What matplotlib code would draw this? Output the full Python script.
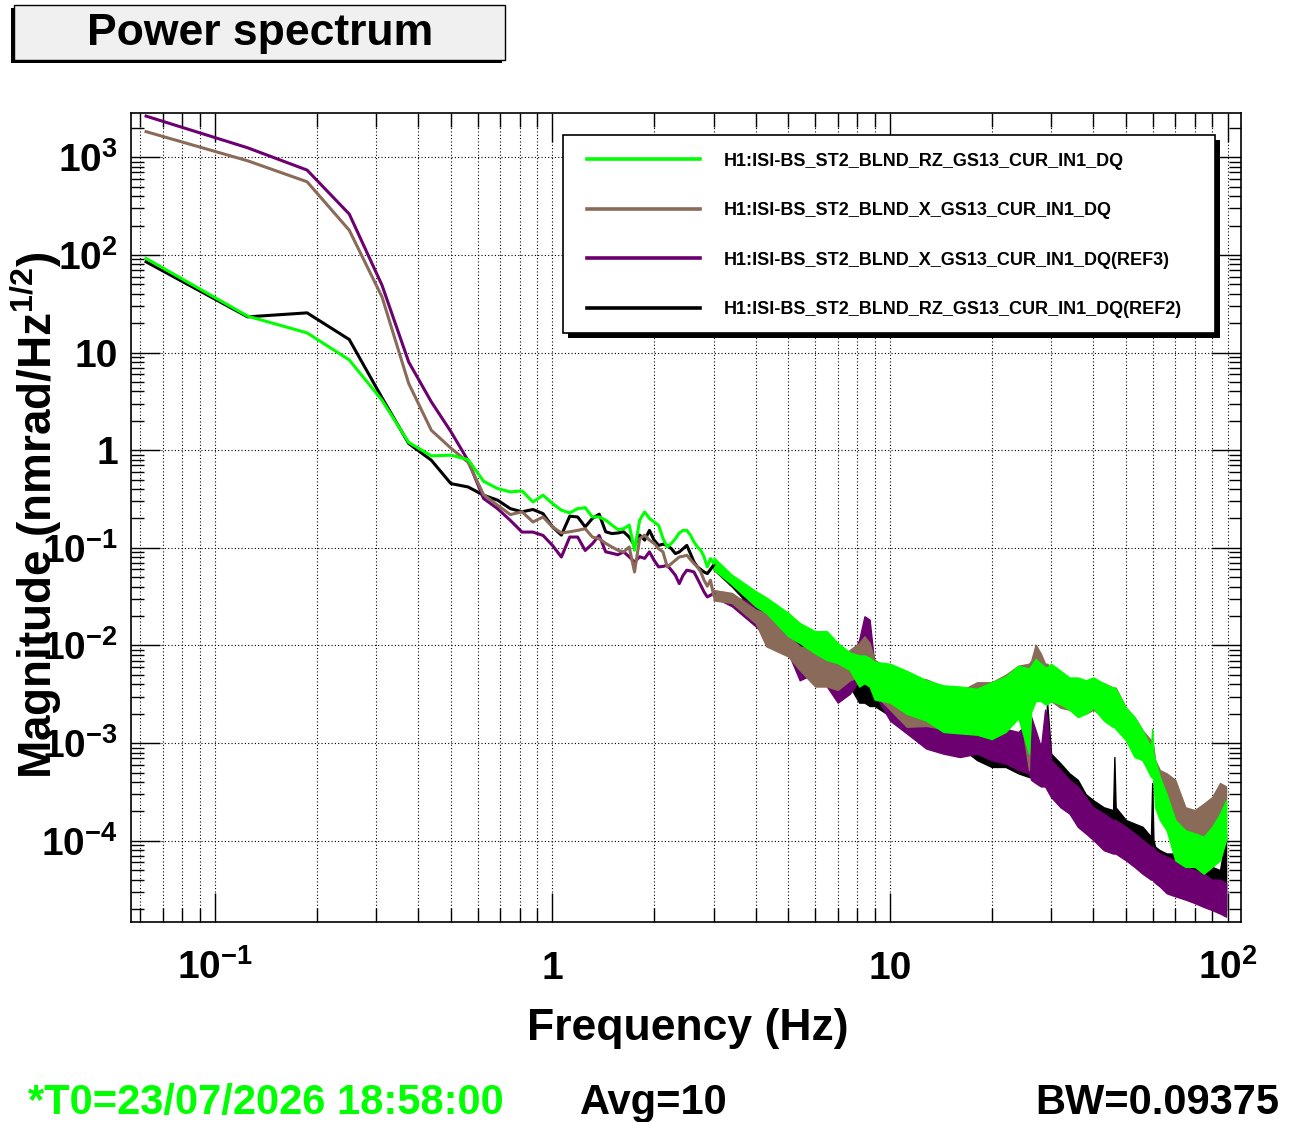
import numpy as np
import matplotlib
matplotlib.use('Agg')
import matplotlib.pyplot as plt
from matplotlib.patches import Rectangle
from matplotlib.ticker import FixedLocator, FixedFormatter, LogLocator, NullFormatter

plt.rcParams['font.family'] = ['Liberation Sans', 'DejaVu Sans']
plt.rcParams['mathtext.fontset'] = 'custom'
plt.rcParams['mathtext.rm'] = 'Liberation Sans:bold'
plt.rcParams['mathtext.bf'] = 'Liberation Sans:bold'
plt.rcParams['mathtext.it'] = 'Liberation Sans:bold'
plt.rcParams['mathtext.default'] = 'bf'

# ---- data -----------------------------------------------------------------
NAMES = ['H1:ISI-BS_ST2_BLND_RZ_GS13_CUR_IN1_DQ',
         'H1:ISI-BS_ST2_BLND_X_GS13_CUR_IN1_DQ',
         'H1:ISI-BS_ST2_BLND_X_GS13_CUR_IN1_DQ(REF3)',
         'H1:ISI-BS_ST2_BLND_RZ_GS13_CUR_IN1_DQ(REF2)']
COLORS = ['#00ff00', '#8a6a58', '#6c0070', '#000000']

# low-frequency bins (0.0625 Hz spacing), drawn as lines
F_LF = [0.0625, 0.125, 0.1875, 0.25, 0.3125, 0.375, 0.4375, 0.5, 0.5625, 0.625,
        0.6875, 0.75, 0.8125, 0.875, 0.9375, 1.0, 1.0625, 1.125, 1.1875, 1.25,
        1.3125, 1.375, 1.4375, 1.5, 1.5625, 1.625, 1.6875, 1.75, 1.8125, 1.875,
        1.9375, 2.0, 2.0625, 2.125, 2.1875, 2.25, 2.3125, 2.375, 2.4375, 2.5,
        2.5625, 2.625, 2.6875, 2.75, 2.8125, 2.875, 2.9375, 3.0]

GREEN_LF = [92, 23.6, 15.9, 8.4, 3.25, 1.2, 0.875, 0.89, 0.80, 0.48,
            0.405, 0.374, 0.383, 0.295, 0.346, 0.284, 0.243, 0.228, 0.252, 0.258,
            0.207, 0.207, 0.192, 0.171, 0.154, 0.157, 0.171, 0.0945, 0.192, 0.233,
            0.2, 0.184, 0.17, 0.125, 0.102, 0.111, 0.124, 0.142, 0.151, 0.151,
            0.135, 0.115, 0.102, 0.0945, 0.0807, 0.0638, 0.0776, 0.07]
BROWN_LF = [1830, 920, 561, 179, 37.2, 4.82, 1.6, 1.05, 0.75, 0.35,
            0.273, 0.219, 0.234, 0.184, 0.207, 0.164, 0.142, 0.146, 0.151, 0.157,
            0.129, 0.124, 0.111, 0.102, 0.0945, 0.0908, 0.102, 0.0566, 0.124, 0.135,
            0.12, 0.111, 0.098, 0.0908, 0.0638, 0.069, 0.0746, 0.0807, 0.082, 0.084,
            0.076, 0.069, 0.0638, 0.0566, 0.0466, 0.0405, 0.0466, 0.033]
PURPLE_LF = [2640, 1250, 739, 262, 49, 8.0, 3.13, 1.55, 0.78, 0.32,
             0.252, 0.191, 0.145, 0.145, 0.134, 0.106, 0.0805, 0.129, 0.129, 0.094,
             0.110, 0.134, 0.091, 0.088, 0.085, 0.091, 0.081, 0.0716, 0.081, 0.078,
             0.091, 0.0745, 0.0638, 0.0645, 0.0664, 0.059, 0.0524, 0.043, 0.0524, 0.059,
             0.058, 0.0566, 0.0484, 0.0414, 0.0353, 0.0314, 0.0327, 0.034]
BLACK_LF = [85, 23.2, 25.5, 13.6, 3.45, 1.17, 0.79, 0.455, 0.42, 0.346,
            0.308, 0.252, 0.234, 0.247, 0.224, 0.164, 0.135, 0.211, 0.207, 0.164,
            0.2, 0.221, 0.146, 0.14, 0.142, 0.146, 0.129, 0.106, 0.135, 0.12,
            0.151, 0.12, 0.106, 0.109, 0.106, 0.098, 0.0873, 0.0908, 0.098, 0.106,
            0.0873, 0.0718, 0.0638, 0.06, 0.0566, 0.0545, 0.06, 0.0664]

# above 3 Hz the traces are dense noise: upper / lower envelope of each band
F_HF = [3.0, 3.4, 4.0, 4.3, 5.0, 5.4, 6.0, 6.5, 7.0, 7.6,
        8.1, 8.4, 8.7, 9.0, 10.0, 11.2, 12.8, 14.4, 16.1, 18.1,
        20, 22, 24, 25.8, 26.2, 27, 28, 28.8, 29.2, 30,
        32, 34, 36, 38, 40, 43, 45.8, 46.2, 46.6, 50,
        53, 56, 59.3, 59.8, 60.3, 61, 63, 66, 70, 75,
        80, 85, 90, 95, 99]

GREEN_HI = [0.08, 0.053, 0.036, 0.031, 0.0215, 0.017, 0.014, 0.014, 0.0106, 0.0085,
            0.0079, 0.0079, 0.0075, 0.0068, 0.0065, 0.0055, 0.0044, 0.0039, 0.0038, 0.0036,
            0.0042, 0.0048, 0.0062, 0.0058, 0.0062, 0.0073, 0.0065, 0.006, 0.006, 0.0065,
            0.0055, 0.0047, 0.0047, 0.0044, 0.0047, 0.0041, 0.0037, 0.0037, 0.0036, 0.0023,
            0.00185, 0.00135, 0.00091, 0.0014, 0.00078, 0.00067, 0.00045, 0.0003, 0.000163, 0.000128,
            0.000119, 0.00011, 0.000139, 0.00019, 0.00026]
GREEN_LO = [0.06, 0.042, 0.0252, 0.0215, 0.0124, 0.0106, 0.0083, 0.0071, 0.0066, 0.0056,
            0.0038, 0.0041, 0.0038, 0.0028, 0.0026, 0.002, 0.0017, 0.0013, 0.00126, 0.00122,
            0.0011, 0.0013, 0.0018, 0.00078, 0.0021, 0.0027, 0.0027, 0.0025, 0.0025, 0.0027,
            0.0025, 0.0022, 0.00185, 0.002, 0.0023, 0.0017, 0.00146, 0.00146, 0.0014, 0.00107,
            0.00072, 0.00067, 0.00045, 0.00045, 0.00042, 0.00022, 0.000163, 0.000128, 6.3e-5, 5.4e-5,
            5.4e-5, 4.6e-5, 5.4e-5, 6.3e-5, 0.000102]

BROWN_HI = [0.037, 0.0345, 0.0232, 0.0215, 0.0124, 0.0098, 0.009, 0.0077, 0.0071, 0.009,
            0.0106, 0.0124, 0.0106, 0.0071, 0.0058, 0.0048, 0.0045, 0.0038, 0.0034, 0.0042,
            0.0042, 0.005, 0.0062, 0.0065, 0.007, 0.0102, 0.0082, 0.0065, 0.0065, 0.006,
            0.0047, 0.0044, 0.0041, 0.0041, 0.0044, 0.0041, 0.0037, 0.0037, 0.0037, 0.0023,
            0.00185, 0.00135, 0.00107, 0.00107, 0.00091, 0.00067, 0.00053, 0.00049, 0.00042, 0.00022,
            0.000206, 0.00024, 0.00028, 0.00039, 0.00036]
BROWN_LO = [0.029, 0.0272, 0.0169, 0.0098, 0.0077, 0.0056, 0.0038, 0.0038, 0.0035, 0.0044,
            0.0048, 0.0056, 0.0048, 0.0032, 0.0022, 0.00147, 0.0015, 0.0014, 0.00147, 0.0017,
            0.002, 0.0025, 0.0027, 0.00053, 0.003, 0.0037, 0.0047, 0.0037, 0.0035, 0.0027,
            0.0023, 0.0022, 0.002, 0.002, 0.0022, 0.00185, 0.0017, 0.0017, 0.0017, 0.00125,
            0.00091, 0.00067, 0.00049, 0.00049, 0.00045, 0.0003, 0.00022, 0.000206, 0.000163, 0.000102,
            0.000102, 0.00011, 0.000119, 0.00015, 0.00012]

PURPLE_HI = [0.0353, 0.0318, 0.0272, 0.0157, 0.0134, 0.0098, 0.0077, 0.0071, 0.0061, 0.0071,
             0.0114, 0.0199, 0.0184, 0.0061, 0.0042, 0.0029, 0.002, 0.0017, 0.0016, 0.0016,
             0.00145, 0.0014, 0.0013, 0.0017, 0.00185, 0.00135, 0.00091, 0.0022, 0.00185, 0.00067,
             0.00053, 0.00042, 0.00036, 0.00028, 0.00022, 0.00019, 0.000163, 0.000163, 0.000163, 0.000139,
             0.000119, 0.000102, 8.7e-5, 8.7e-5, 8.5e-5, 8.0e-5, 7.4e-5, 6.9e-5, 6.3e-5, 5.4e-5,
             5.0e-5, 4.6e-5, 4.0e-5, 4.0e-5, 3.7e-5]
PURPLE_LO = [0.0314, 0.0252, 0.0157, 0.0124, 0.0083, 0.0044, 0.0052, 0.0038, 0.0026, 0.0032,
             0.0044, 0.0071, 0.0061, 0.0032, 0.0017, 0.00126, 0.00088, 0.00078, 0.00072, 0.00078,
             0.00067, 0.00062, 0.00053, 0.00049, 0.00042, 0.00039, 0.00036, 0.00036, 0.00033, 0.00028,
             0.00022, 0.00019, 0.000139, 0.000119, 0.000102, 8.0e-5, 7.4e-5, 7.4e-5, 7.4e-5, 6.3e-5,
             5.4e-5, 4.6e-5, 4.0e-5, 4.0e-5, 3.9e-5, 3.7e-5, 3.4e-5, 2.9e-5, 2.7e-5, 2.5e-5,
             2.3e-5, 2.1e-5, 1.95e-5, 1.8e-5, 1.67e-5]

BLACK_HI = [0.0664, 0.048, 0.029, 0.0232, 0.0169, 0.0114, 0.009, 0.0083, 0.0071, 0.0056,
            0.0048, 0.0048, 0.0044, 0.0044, 0.0032, 0.0026, 0.0016, 0.00136, 0.00147, 0.00107,
            0.00107, 0.00099, 0.00099, 0.00091, 0.00091, 0.00091, 0.00099, 0.00099, 0.0026, 0.00078,
            0.00062, 0.00049, 0.00042, 0.0003, 0.00026, 0.00022, 0.000206, 0.00072, 0.00022, 0.000163,
            0.00015, 0.000139, 0.00011, 0.00039, 0.000102, 8.7e-5, 8.0e-5, 7.4e-5, 7.4e-5, 6.9e-5,
            6.3e-5, 5.9e-5, 5.4e-5, 5.0e-5, 0.000119]
BLACK_LO = [0.06, 0.04, 0.022, 0.0199, 0.0106, 0.0071, 0.0056, 0.0052, 0.0044, 0.0038,
            0.0026, 0.0026, 0.0024, 0.0024, 0.0019, 0.0017, 0.00116, 0.00092, 0.00092, 0.00067,
            0.00057, 0.00057, 0.00049, 0.00045, 0.00045, 0.00042, 0.00042, 0.00045, 0.00045, 0.00039,
            0.0003, 0.00022, 0.00019, 0.000163, 0.00015, 0.000128, 0.000119, 0.000119, 0.000119, 9.4e-5,
            8.0e-5, 7.4e-5, 6.3e-5, 6.3e-5, 6.0e-5, 4.6e-5, 4.0e-5, 3.7e-5, 3.4e-5, 3.1e-5,
            2.5e-5, 2.3e-5, 2.1e-5, 2.1e-5, 1.95e-5]

X_TICKS = [0.1, 1, 10, 100]
X_TICK_LABELS = [r'$10^{-1}$', '1', '10', r'$10^{2}$']
Y_TICKS = [1e-4, 1e-3, 1e-2, 1e-1, 1, 10, 100, 1000]
Y_TICK_LABELS = [r'$10^{-4}$', r'$10^{-3}$', r'$10^{-2}$', r'$10^{-1}$', '1', '10',
                 r'$10^{2}$', r'$10^{3}$']

W, H = 1300, 1122
fig = plt.figure(figsize=(W / 100, H / 100), dpi=100)
fig.patch.set_facecolor('white')

def fx(px):
    return px / W

def fy(py):
    return 1 - py / H

ax = fig.add_axes([fx(131), fy(921.5), fx(1241) - fx(131), fy(113) - fy(921.5)])
ax.set_xscale('log')
ax.set_yscale('log')

series = list(zip(NAMES, COLORS,
                  [GREEN_LF, BROWN_LF, PURPLE_LF, BLACK_LF],
                  [GREEN_HI, BROWN_HI, PURPLE_HI, BLACK_HI],
                  [GREEN_LO, BROWN_LO, PURPLE_LO, BLACK_LO]))

handles = {}
# last trace first so the live RZ trace ends up on top
for name, col, lf, hi, lo in reversed(series):
    h, = ax.plot(F_LF, lf, color=col, lw=2.2)
    ax.fill_between(F_HF, lo, hi, facecolor=col, edgecolor=col, lw=1.0)
    handles[name] = h

ax.set_xlim(0.0564, 109.6)
ax.set_ylim(1.49e-5, 2840)
ax.set_axisbelow(True)

ax.xaxis.set_major_locator(FixedLocator(X_TICKS))
ax.xaxis.set_major_formatter(FixedFormatter(X_TICK_LABELS))
ax.xaxis.set_minor_locator(LogLocator(base=10, subs=np.arange(2, 10), numticks=30))
ax.xaxis.set_minor_formatter(NullFormatter())
ax.yaxis.set_major_locator(FixedLocator(Y_TICKS))
ax.yaxis.set_major_formatter(FixedFormatter(Y_TICK_LABELS))
ax.yaxis.set_minor_locator(LogLocator(base=10, subs=np.arange(2, 10), numticks=30))
ax.yaxis.set_minor_formatter(NullFormatter())

ax.tick_params(which='both', direction='in', top=True, right=True, width=1.0, color='k')
ax.tick_params(which='major', length=21)
ax.tick_params(axis='x', which='minor', length=10)
ax.tick_params(axis='y', which='minor', length=9)
ax.tick_params(axis='x', labelsize=28, pad=41.5)
ax.tick_params(axis='y', labelsize=28, pad=9.5)
for lbl in ax.get_xticklabels():
    lbl.set_fontweight('bold')
    lbl.set_verticalalignment('baseline')
for lbl in ax.get_yticklabels():
    lbl.set_fontweight('bold')

ax.grid(True, which='major', ls=(0, (1, 2)), color='k', lw=0.8)
ax.xaxis.grid(True, which='minor', ls=(0, (1, 2)), color='k', lw=0.8)
for sp in ax.spines.values():
    sp.set_linewidth(1.2)

# legend pave: shadow + white box, entries placed inside
fig.patches.append(Rectangle((fx(568), fy(338)), fx(1220) - fx(568), fy(140) - fy(338),
                             transform=fig.transFigure, fc='k', ec='k', lw=0))
fig.patches.append(Rectangle((fx(563), fy(333)), fx(1215) - fx(563), fy(135) - fy(333),
                             transform=fig.transFigure, fc='white', ec='k', lw=1.2))
leg = fig.legend([handles[n] for n in NAMES], NAMES, loc='upper left',
                 bbox_to_anchor=(fx(587), fy(152.5)), bbox_transform=fig.transFigure,
                 borderaxespad=0, borderpad=0, frameon=False,
                 prop={'size': 13, 'weight': 'bold'},
                 handlelength=6.25, handletextpad=1.35, labelspacing=1.8)
for l in leg.get_lines():
    l.set_linewidth(2.6)

# title pave with shadow
fig.patches.append(Rectangle((fx(11), fy(63)), fx(502) - fx(11), fy(8) - fy(63),
                             transform=fig.transFigure, fc='k', ec='k', lw=0))
fig.patches.append(Rectangle((fx(14), fy(60)), fx(505) - fx(14), fy(5) - fy(60),
                             transform=fig.transFigure, fc='#f0f0f0', ec='k', lw=1.0))
fig.text(fx(260), fy(45), 'Power spectrum', ha='center', va='baseline',
         fontsize=32, fontweight='bold')

fig.text(fx(688), fy(1040), 'Frequency (Hz)', ha='center', va='baseline',
         fontsize=32, fontweight='bold')
fig.text(fx(36), fy(515), r'Magnitude (nmrad/Hz$^{1/2}$)', ha='center', va='center',
         rotation=90, fontsize=33, fontweight='bold')

fig.text(fx(28), fy(1114), '*T0=23/07/2026 18:58:00', ha='left', va='baseline',
         fontsize=30, fontweight='bold', color='#00ff00')
fig.text(fx(580), fy(1114), 'Avg=10', ha='left', va='baseline',
         fontsize=30, fontweight='bold')
fig.text(fx(1279), fy(1114), 'BW=0.09375', ha='right', va='baseline',
         fontsize=30, fontweight='bold')

fig.savefig('out.png', dpi=100)
